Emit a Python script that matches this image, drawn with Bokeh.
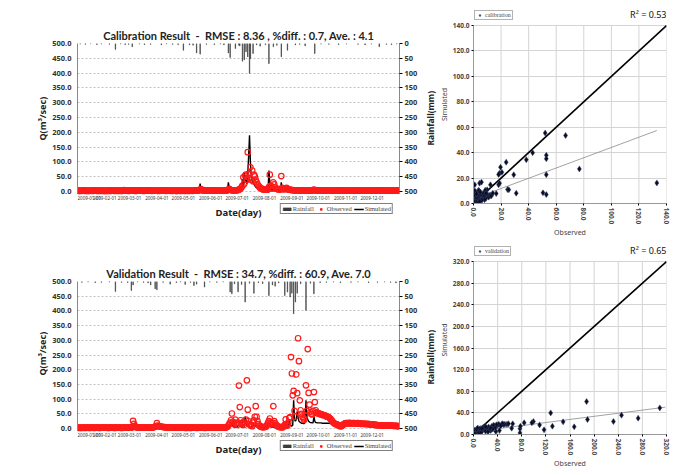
from bokeh.plotting import figure
from bokeh.models import (Range1d, LinearAxis, FixedTicker, Legend, LegendItem, Label, Title,
                          NumeralTickFormatter)
from bokeh.core.properties import value
from bokeh.layouts import column, row
from bokeh.embed import file_html
from bokeh.resources import INLINE

NB = "\u00a0"

# ---------------- tick data ----------------
month_days = [0, 31, 59, 90, 120, 151, 181, 212, 243, 273, 304, 334]
month_labels = ["2009-01-01", "2009-02-01", "2009-03-01", "2009-04-01", "2009-05-01", "2009-06-01",
                "2009-07-01", "2009-08-01", "2009-09-01", "2009-10-01", "2009-11-01", "2009-12-01"]
q_ticks = [0, 50, 100, 150, 200, 250, 300, 350, 400, 450, 500]
rain_ticks = [0, 50, 100, 150, 200, 250, 300, 350, 400, 450, 500]
cal_ticks = [0, 20, 40, 60, 80, 100, 120, 140]
val_ticks = [0, 40, 80, 120, 160, 200, 240, 280, 320]

# ---------------- calibration time series (daily, 2009) ----------------
obs_cal = (
    [3,2,3,3,2,3,3,4,3,2, 3,3,2,2,3,3,3,2,3,3, 4,3,3,2,3,3,2,3,3,3, 2] +
    [2,3,3,2,3,3,2,3,4,3, 3,2,3,3,3,2,3,3,3,2, 3,4,5,4,3,3,3,2] +
    [3,3,3,4,3,3,3,2,3,3, 4,4,3,3,3,3,2,3,3,3, 3,4,3,3,3,3,2,3,3,3, 3] +
    [3,3,2,3,3,3,3,4,3,3, 3,2,3,3,3,3,3,2,3,3, 3,3,2,2,3,3,3,2,3,3] +
    [3,3,2,3,3,3,2,3,3,3, 3,2,3,3,4,4,3,3,4,6, 8,5,4,3,3,3,3,3,4,4, 3] +
    [3,3,4,4,3,3,3,3,3,3, 3,3,3,3,3,3,3,3,3,4, 6,9,7,5,4,4,3,3,4,4] +
    [4,5,6,8,10,15,20,48,25,54, 57,40,133,60,45,82,40,71,35,57, 51,40,32,25,20,16,13,11,9,8, 7] +
    [7,6,6,6,8,15,57,20,12,10, 31,24,14,10,9,8,8,7,7,52, 12,9,8,8,10,12,9,7,6,6, 5] +
    [5,5,4,4,4,4,4,4,3,3, 3,3,3,3,3,3,3,3,3,3, 3,3,3,3,4,6,5,4,3,3] +
    [4,3,3,3,3,3,3,3,3,3, 3,3,3,3,3,3,3,3,3,3, 3,3,3,3,3,3,3,3,3,3, 3] +
    [3,3,3,3,3,3,3,3,3,3, 3,3,3,3,3,3,3,3,3,3, 3,3,3,3,3,3,3,3,3,3] +
    [3,3,3,3,3,3,3,3,3,4, 4,3,3,3,3,3,3,3,3,3, 3,3,3,3,3,3,3,3,3,3, 3]
)
sim_cal = (
    [1,1,1,1,1,1,1,1,1,1, 1,1,1,1,1,1,1,1,1,1, 1,1,1,1,1,1,1,1,1,1, 1] +
    [1,1,1,1,1,1,1,1,1,1, 1,1,2,2,1,1,1,1,1,1, 1,1,1,1,1,1,1,1] +
    [1,1,1,2,1,1,1,1,1,1, 1,1,1,1,1,1,1,1,1,1, 1,1,1,1,1,1,1,1,1,1, 1] +
    [1,1,1,1,1,1,1,1,1,1, 1,1,1,1,1,1,1,1,1,1, 1,1,1,1,1,1,1,1,1,1] +
    [1,1,1,1,1,1,1,1,1,1, 1,1,1,1,8,4,2,2,3,27, 10,5,3,2,2,1,1,1,1,1, 1] +
    [1,1,1,1,1,1,1,1,1,1, 1,1,1,1,1,1,1,1,1,2, 31,14,6,3,2,2,2,2,3,3] +
    [3,3,4,5,6,8,43,20,65,30, 40,25,60,120,190,100,48,35,30,25, 20,15,12,10,9,8,7,6,6,5, 5] +
    [5,4,4,4,4,71,25,12,8,6, 5,5,4,4,4,4,4,3,3,31, 10,6,4,3,3,3,3,3,3,2, 2] +
    [2,2,2,2,2,2,2,2,2,2, 2,2,2,2,2,2,2,2,2,2, 2,2,2,2,2,5,3,2,2,2] +
    [2,2,2,2,2,2,2,2,2,2, 2,2,2,2,2,1,1,1,1,1, 1,1,1,1,1,1,1,1,1,1, 1] +
    [1,1,1,1,1,1,1,1,1,1, 1,1,1,1,1,1,1,1,1,1, 1,1,1,1,1,1,1,1,1,1] +
    [1,1,1,1,1,1,1,1,3,2, 1,1,1,1,1,1,1,1,1,1, 1,1,1,1,1,1,1,1,1,1, 1]
)
rain_days_cal = [3, 9, 15, 22, 27, 36, 43, 49, 54, 58, 62, 70, 76, 83, 95, 101, 108, 114, 120, 127,
                 131, 135, 139, 146, 155, 162, 166, 171, 173, 179, 183, 184, 187, 189, 191, 193, 195,
                 196, 199, 203, 207, 213, 217, 222, 226, 231, 238, 247, 252, 258, 269, 276, 285, 296,
                 305, 318, 326, 333, 342, 350, 356, 362]
rain_mm_cal = [2, 3, 1, 4, 2, 3, 20, 2, 4, 3, 11, 2, 4, 3, 5, 2, 3, 4, 23, 5,
               6, 32, 36, 3, 4, 2, 5, 32, 47, 17, 6, 8, 60, 55, 28, 45, 101,
               51, 34, 5, 9, 4, 68, 11, 6, 45, 23, 5, 3, 8, 34, 2, 3, 4,
               2, 3, 5, 2, 11, 3, 4, 2]

# ---------------- validation time series ----------------
obs_val = (
    [3,3,2,3,3,2,3,3,3,2, 3,3,3,3,2,3,3,3,3,2, 3,3,3,3,3,2,3,3,3,3, 3] +
    [3,3,3,3,2,3,3,3,3,3, 3,2,3,3,3,3,3,3,3,2, 3,3,3,3,3,3,3,3] +
    [3,3,3,4,26,16,8,5,4,4, 3,3,3,3,3,3,3,3,3,3, 3,3,3,3,3,3,3,4,5,6, 8] +
    [18,10,8,7,7,6,6,5,5,5, 4,4,4,4,4,4,3,3,3,3, 3,3,3,3,3,3,3,3,3,3] +
    [3,3,3,2,3,3,3,3,2,3, 3,3,3,3,3,3,2,3,3,3, 3,3,3,3,3,2,3,3,3,3, 3] +
    [3,3,3,3,3,3,3,3,3,3, 3,3,3,3,3,3,3,3,4,6, 10,15,20,28,51,23,15,20,30,18] +
    [12,20,146,73,28,18,15,22,12,20, 30,164,64,25,15,10,12,8,20,28, 40,76,40,25,15,10,8,6,5,5, 5] +
    [5,6,8,12,20,25,34,20,15,20, 76,25,18,12,10,8,6,5,5,5, 4,5,8,12,31,15,10,20,35,39, 243] +
    [187,113,128,60,40,184,120,307,229,96, 62,50,40,35,30,45,147,60,270,121, 81,56,50,48,60,124,90,62,55,52] +
    [52,50,50,48,48,46,45,45,44,42, 40,40,38,35,32,28,24,20,18,16, 15,14,12,10,9,8,8,10,12,15, 17] +
    [18,18,17,18,19,18,18,17,18,18, 18,17,17,18,18,17,17,16,16,17, 16,16,16,15,16,15,15,15,14,14] +
    [14,13,13,12,12,12,11,11,11,11, 11,11,10,10,10,10,10,10,10,10, 10,10,10,10,9,9,9,9,9,8, 8]
)
sim_val = (
    [1,1,1,1,1,1,1,1,1,1, 1,1,1,1,1,1,1,1,1,1, 1,1,1,1,1,1,1,1,1,1, 1] +
    [1,1,1,1,1,1,1,1,1,1, 1,1,1,1,1,1,1,1,1,1, 1,1,1,1,1,1,1,1] +
    [1,1,1,1,1,1,1,1,1,1, 1,1,1,1,1,1,1,1,1,1, 1,1,1,1,1,1,1,1,1,1, 1] +
    [1,1,1,1,1,1,1,1,1,1, 1,1,1,1,1,1,1,1,1,1, 1,1,1,1,1,1,1,1,1,1] +
    [1,1,1,1,1,1,1,1,1,1, 1,1,1,1,1,1,1,1,1,1, 1,1,1,1,1,1,1,1,1,1, 1] +
    [1,1,1,1,1,1,1,1,1,1, 1,1,1,1,1,1,1,1,1,1, 1,1,8,15,20,10,6,5,4,4] +
    [5,10,15,8,6,5,5,6,8,40, 25,12,8,6,5,5,5,6,20,15, 10,8,6,5,5,4,4,4,4,4, 4] +
    [4,4,4,4,20,12,8,6,5,5, 5,5,4,4,4,4,4,4,4,4, 4,4,4,15,8,6,5,5,25,15, 10] +
    [8,12,96,30,25,30,57,40,25,22, 20,18,18,17,17,20,96,40,30,25, 22,20,20,19,19,40,25,20,20,19] +
    [19,19,19,19,18,18,18,18,18,18, 18,18,18,18,17,17,17,17,17,17, 16,16,16,16,16,15,15,15,15,15, 15] +
    [15,14,14,14,14,14,14,14,14,14, 13,13,13,13,13,13,13,13,13,13, 12,12,12,12,12,12,12,12,12,12] +
    [11,11,11,11,11,11,11,11,11,11, 11,11,11,11,11,11,11,11,11,11, 11,11,11,11,10,10,10,10,10,10, 10]
)
rain_days_val = [5, 12, 20, 27, 36, 43, 50, 57, 61, 63, 68, 75, 80, 83, 88, 90, 97, 105, 112, 117,
                 122, 128, 132, 135, 144, 150, 158, 165, 173, 175, 178, 182, 186, 190, 195, 200,
                 205, 210, 217, 221, 224, 228, 235, 238, 241, 243, 245, 247, 249, 253, 259, 264,
                 268, 275, 282, 290, 298, 310, 318, 330, 340, 348, 355, 361]
rain_mm_val = [3, 2, 4, 3, 2, 34, 3, 4, 31, 12, 2, 3, 5, 12, 25, 28, 3, 9, 4, 2,
               10, 3, 14, 9, 19, 2, 3, 2, 36, 42, 8, 35, 10, 70, 6, 40,
               4, 7, 48, 12, 16, 5, 48, 36, 53, 40, 110, 70, 40, 8, 98, 6,
               42, 4, 3, 2, 4, 3, 2, 4, 3, 2, 3, 5]

# ---------------- scatter data ----------------
sc_obs_cal = [52, 66.8, 38.3, 42.9, 52.8, 52.8, 52.8, 52.8, 50.4, 76.8, 133, 23.7, 19.6, 18.9, 20.6,
              18.2, 29.2, 24.7, 31, 16.5, 18.2, 18.9, 12.3, 0.9, 4.4, 5.8, 25.6, 9.9, 7.8, 9.7,
              12, 3.6, 8.5,
              0.5, 1, 1.5, 2, 0.5, 1, 2, 3, 3, 4, 4, 5, 5, 6, 6, 7, 7, 8, 9, 10, 11, 12, 2, 3,
              1, 4, 5, 0.3, 1.2, 2.5, 3.5, 6, 8, 0.8, 2.2, 9, 13, 14, 6, 4.5]
sc_sim_cal = [55.4, 53.5, 34.5, 40, 37.9, 35.2, 22.7, 7, 8.4, 27.2, 16.2, 32.5, 28.6, 23.8, 24.6,
              22.8, 22.6, 11, 8.1, 7.8, 14.7, 16, 14.7, 14.7, 16, 16.8, 10.8, 10.8, 8.1, 7.6,
              6.5, 10.4, 10.4,
              1, 2, 0.5, 3, 4, 6, 5, 2, 4, 3, 6, 5, 7, 4, 6, 5, 8, 6, 4, 7, 5, 6, 8, 9,
              10, 10, 9, 2.5, 1.5, 1, 0.8, 3, 3, 7, 7.5, 8, 6, 8, 2.5, 1.5]

sc_obs_val = [308.9, 187.5, 189, 128, 130.8, 148.6, 167, 232, 245.4, 273, 117, 109.6, 99.4, 96.7,
              84, 77, 77, 77.8, 65, 63.3, 55.5, 58, 52, 46.5, 43, 37, 28.6, 50, 40, 35, 30, 25,
              42, 38, 33, 48, 45, 36, 32, 27, 22, 18, 15, 12, 10, 8, 6, 4, 3, 2, 1, 0.5, 1.5,
              5, 7, 9, 11, 13, 16, 20, 24, 28, 20, 14, 0.3, 2.5]
sc_sim_val = [49.2, 60.9, 27.7, 40, 15.4, 23.4, 14.2, 24, 35.7, 30.2, 8.6, 17.8, 24, 21.6,
              21.6, 10.5, 3, 15.4, 19.8, 11.7, 19, 20, 19, 18.5, 7.4, 5.6, 7.4, 18.5, 17, 16, 15, 14,
              19, 18, 17, 20, 16, 12, 10, 9, 12, 10, 8, 6, 9, 5, 7, 4, 6, 3, 2, 5, 8,
              10, 12, 3, 11, 4, 13, 6, 5, 12, 15, 11, 1, 1.5]

trend_x_cal = [0, 133]
trend_y_cal = [3.7, 57.4]
trend_x_val = [0, 318]
trend_y_val = [5, 50.5]
one_cal = [0, 140]
one_val = [0, 320]

TITLE_FONT = "Lato"
AX_FONT = "Noto Sans"
SERIF = "Liberation Serif"
Q_MAX = 500
LEFT_W = 420
TOTAL_W = 692


def style_axis(ax, size, bold=True, color="#333333"):
    ax.major_label_text_font = AX_FONT
    ax.major_label_text_font_size = size
    ax.major_label_text_font_style = "bold" if bold else "normal"
    ax.major_label_text_color = color
    ax.axis_label_text_font = AX_FONT
    ax.minor_tick_out = 0
    ax.minor_tick_in = 0
    ax.major_tick_in = 0


def side_title(text, size, offset):
    # vertical title reading bottom-to-top, anchored from the bottom of the frame
    return Title(text=text, align="left", offset=offset, standoff=1,
                 text_font=AX_FONT, text_font_size=size, text_font_style="bold",
                 text_color="#222222")


def ts_figure(title, obs, sim, r_days, r_mm, height, b_top, b_bottom, zero_px,
              tick_px, date_px, q_offset):
    """Frame runs from b_top to height-b_bottom; the 0..500 band takes zero_px pixels,
    the strip below 0 holds the date labels, the axis title and the legend."""
    days = list(range(len(obs)))
    frame_h = height - b_top - b_bottom
    below = Q_MAX * (frame_h - zero_px) / zero_px
    zero_row = b_top + zero_px

    def q_at(px):
        return Q_MAX * (zero_row - px) / zero_px

    p = figure(width=LEFT_W, height=height, output_backend="svg", toolbar_location=None,
               x_range=Range1d(0, 365), y_range=Range1d(-below, Q_MAX),
               min_border_left=77, min_border_right=20, min_border_top=b_top,
               min_border_bottom=b_bottom, title=title)
    p.title.align = "center"
    p.title.text_font = TITLE_FONT
    p.title.text_font_size = "11px"
    p.title.text_font_style = "bold"
    p.title.text_color = "#222222"
    p.title.standoff = 4
    p.outline_line_color = None

    p.extra_y_ranges = {"rain": Range1d(Q_MAX + below, 0)}

    rain_r = p.vbar(x=r_days, top=r_mm, bottom=0, width=0.5, y_range_name="rain",
                    fill_color="#3a3a3a", line_color="#3a3a3a", line_width=0.6)
    sim_r = p.line(days, sim, line_color="black", line_width=1.4)
    obs_r = p.scatter(days, obs, marker="circle", size=5.5, fill_color=None,
                      line_color="#ff1a1a", line_width=1.2)

    p.xgrid.visible = False
    p.xaxis.visible = False
    p.ygrid.ticker = FixedTicker(ticks=q_ticks)
    p.ygrid.grid_line_color = "#c0c0c0"
    p.ygrid.grid_line_dash = "2 2"

    # date tick labels and axis title, drawn in the strip below zero
    aligns = ["left"] + ["center"] * (len(month_days) - 1)
    p.text(x=month_days, y=[q_at(tick_px)] * len(month_days), text=month_labels,
           text_align=aligns, text_baseline="middle", text_font=value(AX_FONT),
           text_font_size="4.5px", text_color="#333333")
    p.add_layout(Label(x=182.5, y=q_at(date_px), text="Date(day)", text_align="center",
                       text_baseline="middle", text_font=AX_FONT, text_font_size="9.5px",
                       text_font_style="bold", text_color="#222222"))

    ya = p.yaxis[0]
    style_axis(ya, "7.5px")
    ya.ticker = FixedTicker(ticks=q_ticks)
    ya.bounds = (0, Q_MAX)
    ya.formatter = NumeralTickFormatter(format="0.0")
    ya.major_tick_out = 0
    ya.major_label_standoff = 6
    ya.axis_line_color = "#888888"
    p.add_layout(side_title("Q(m³/sec)", "9px", q_offset), "left")

    ra = LinearAxis(y_range_name="rain", ticker=FixedTicker(ticks=rain_ticks))
    style_axis(ra, "7.5px")
    ra.bounds = (0, Q_MAX)
    ra.major_tick_out = 3
    ra.major_label_standoff = 2
    ra.axis_line_color = "#888888"
    p.add_layout(ra, "right")

    leg = Legend(items=[LegendItem(label="Rainfall", renderers=[rain_r]),
                        LegendItem(label="Observed", renderers=[obs_r]),
                        LegendItem(label="Simulated", renderers=[sim_r])],
                 location="bottom_right", orientation="horizontal",
                 border_line_color="black", border_line_width=1,
                 background_fill_color="white", background_fill_alpha=1,
                 label_text_font=SERIF, label_text_font_size="6.5px",
                 glyph_width=10, glyph_height=4, label_height=5, label_standoff=1,
                 spacing=2, padding=1, margin=6)
    p.add_layout(leg)
    return p


def sc_figure(obs, sim, tx, ty, one, ticks, r2, leg_label, height, bl, b_top, data_top_px,
              data_bottom_px, leg_bottom_px, r2_px, rain_offset):
    vmax = one[-1]
    frame_h = data_bottom_px - b_top
    data_h = data_bottom_px - data_top_px
    y_end = vmax * frame_h / data_h
    width = TOTAL_W - LEFT_W
    p = figure(width=width, height=height, output_backend="svg", toolbar_location=None,
               x_range=Range1d(0, vmax), y_range=Range1d(0, y_end), title=None,
               min_border_left=bl, min_border_right=width - bl - 193,
               min_border_top=b_top, min_border_bottom=height - data_bottom_px)
    p.outline_line_color = None
    p.xgrid.visible = False
    p.ygrid.ticker = FixedTicker(ticks=ticks)
    p.ygrid.grid_line_color = "#d4d4d4"
    p.ygrid.grid_line_width = 1
    n = len(ticks) - 1
    p.segment(x0=ticks[1:], y0=[0] * n, x1=ticks[1:], y1=[vmax] * n,
              line_color="#d4d4d4", line_width=1)

    p.line(one, one, line_color="black", line_width=1.6)
    p.line(tx, ty, line_color="#8a8a8a", line_width=0.8)
    r = p.scatter(obs, sim, marker="diamond", size=6, fill_color="#0c0c22",
                  line_color="#33456a", line_width=0.5)

    for ax, lab in ((p.xaxis[0], "Observed"), (p.yaxis[0], "Simulated")):
        style_axis(ax, "6.5px", color="#444444")
        ax.ticker = FixedTicker(ticks=ticks)
        ax.bounds = (0, vmax)
        ax.formatter = NumeralTickFormatter(format="0.0")
        ax.axis_label = lab
        ax.axis_label_text_font_size = "7px"
        ax.axis_label_text_font_style = "normal"
        ax.axis_label_standoff = 1
        ax.major_tick_out = 2
        ax.major_label_standoff = 2
        ax.axis_line_color = "#999999"
    p.xaxis[0].major_label_orientation = "vertical"
    # right-hand axis title of the hydrograph sits in this figure's left margin
    p.add_layout(side_title("Rainfall(mm)", "8.5px", rain_offset), "left")

    leg = Legend(items=[LegendItem(label=leg_label, renderers=[r])],
                 location=(1, data_bottom_px - leg_bottom_px), orientation="horizontal",
                 border_line_color="#666666", border_line_width=1,
                 background_fill_color="white", background_fill_alpha=1,
                 label_text_font=SERIF, label_text_font_size="6px",
                 glyph_width=7, glyph_height=6, label_height=6, label_standoff=2,
                 spacing=2, padding=1, margin=0)
    p.add_layout(leg)

    r2_y = y_end * (data_bottom_px - r2_px) / frame_h
    p.add_layout(Label(x=vmax, y=r2_y, text=r2, text_align="right", text_baseline="middle",
                       text_font=AX_FONT, text_font_size="9px", text_color="#111111"))
    return p


t1 = (f"Calibration{NB}Result{NB}{NB}-{NB}{NB}RMSE{NB}:{NB}8.36{NB},{NB}"
      f"%diff.{NB}:{NB}0.7,{NB}Ave.{NB}:{NB}4.1")
t2 = (f"Validation{NB}Result{NB}{NB}-{NB}{NB}RMSE{NB}:{NB}34.7,{NB}"
      f"%diff.{NB}:{NB}60.9,{NB}Ave.{NB}7.0")

p1 = ts_figure(t1, obs_cal, sim_cal, rain_days_cal, rain_mm_cal, 240, 43, 20, 148,
               197, 212, 80)
p3 = ts_figure(t2, obs_val, sim_val, rain_days_val, rain_mm_val, 235, 41, 18, 147,
               434.5 - 240, 449 - 240, 82)
p2 = sc_figure(sc_obs_cal, sc_sim_cal, trend_x_cal, trend_y_cal, one_cal, cal_ticks,
               "R² = 0.53", "calibration", 240, 53, 5, 25, 203, 20, 14, 58)
p4 = sc_figure(sc_obs_val, sc_sim_val, trend_x_val, trend_y_val, one_val, val_ticks,
               "R² = 0.65", "validation", 235, 53, 5, 21, 194, 16, 10, 50)

layout = row(column(p1, p3), column(p2, p4))
open("out.html", "w").write(file_html(layout, INLINE))
